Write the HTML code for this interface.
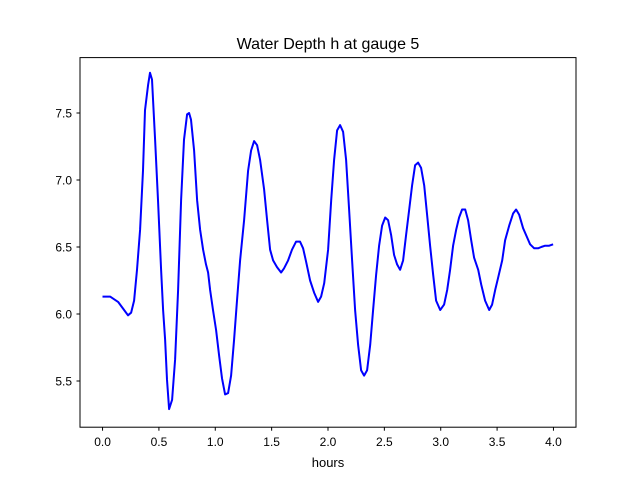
<!DOCTYPE html>
<html><head><meta charset="utf-8"><style>
body{margin:0;background:#fff;}
svg{display:block;font-family:"Liberation Sans","DejaVu Sans",sans-serif;}
</style></head><body>
<svg id="chart" width="640" height="480" xmlns="http://www.w3.org/2000/svg">
<rect width="640" height="480" fill="#fff"/>
<text x="328" y="49" font-size="16" text-anchor="middle">Water Depth h at gauge 5</text>
<g id="xticks"></g>
<g id="yticks"></g>
<path id="line" fill="none" stroke="#0000ff" stroke-width="2" stroke-linejoin="round"/>
<rect x="80" y="57.6" width="496" height="369.6" fill="none" stroke="#000" stroke-width="1"/>
<text x="328" y="467" font-size="13" text-anchor="middle">hours</text>
</svg>
<script>
const hours=[0,0.067,0.138,0.191,0.226,0.253,0.28,0.306,0.333,0.359,0.377,0.404,0.421,0.439,0.466,0.492,0.519,0.537,0.555,0.572,0.59,0.617,0.644,0.67,0.697,0.723,0.75,0.768,0.785,0.812,0.839,0.865,0.892,0.918,0.936,0.954,0.98,1.007,1.034,1.06,1.087,1.114,1.14,1.167,1.193,1.22,1.256,1.291,1.318,1.344,1.371,1.398,1.433,1.46,1.486,1.513,1.548,1.584,1.61,1.646,1.681,1.717,1.752,1.779,1.806,1.841,1.877,1.912,1.939,1.966,2.001,2.028,2.054,2.081,2.107,2.134,2.161,2.187,2.214,2.24,2.267,2.294,2.32,2.347,2.374,2.4,2.427,2.453,2.48,2.507,2.533,2.56,2.586,2.613,2.64,2.666,2.693,2.72,2.746,2.773,2.799,2.826,2.853,2.879,2.906,2.933,2.959,2.995,3.03,3.057,3.083,3.11,3.137,3.163,3.19,3.217,3.243,3.27,3.296,3.332,3.359,3.394,3.43,3.456,3.483,3.509,3.545,3.571,3.607,3.642,3.669,3.696,3.731,3.767,3.793,3.829,3.864,3.891,3.926,3.962,3.997];
const depth=[6.13,6.13,6.09,6.03,5.99,6.01,6.1,6.33,6.63,7.07,7.52,7.71,7.8,7.75,7.3,6.85,6.33,6.03,5.81,5.51,5.29,5.36,5.66,6.18,6.85,7.3,7.49,7.5,7.45,7.22,6.85,6.63,6.48,6.37,6.31,6.18,6.03,5.88,5.69,5.52,5.4,5.41,5.54,5.81,6.1,6.4,6.7,7.07,7.22,7.29,7.26,7.15,6.93,6.7,6.48,6.4,6.35,6.31,6.34,6.4,6.48,6.54,6.54,6.49,6.39,6.25,6.16,6.09,6.13,6.23,6.48,6.85,7.15,7.37,7.41,7.36,7.15,6.78,6.4,6.03,5.77,5.58,5.54,5.58,5.77,6.03,6.29,6.51,6.66,6.72,6.7,6.59,6.44,6.37,6.33,6.4,6.59,6.78,6.96,7.11,7.13,7.09,6.96,6.74,6.51,6.29,6.1,6.03,6.07,6.18,6.33,6.51,6.63,6.72,6.78,6.78,6.7,6.55,6.42,6.33,6.22,6.1,6.03,6.07,6.18,6.27,6.4,6.55,6.66,6.75,6.78,6.74,6.64,6.57,6.52,6.49,6.49,6.5,6.51,6.51,6.52];
const xTickVals=[0,0.5,1,1.5,2,2.5,3,3.5,4];
const xTickLabels=["0.0","0.5","1.0","1.5","2.0","2.5","3.0","3.5","4.0"];
const yTickVals=[5.5,6,6.5,7,7.5];
const yTickLabels=["5.5","6.0","6.5","7.0","7.5"];
const X=h=>80+(h+0.2)*(496/4.4);
const Y=v=>113+(7.5-v)*134;
const ns="http://www.w3.org/2000/svg";
const xg=document.getElementById('xticks'), yg=document.getElementById('yticks');
xTickVals.forEach((t,i)=>{
 const l=document.createElementNS(ns,'line');
 
 
 l.setAttribute('x1',X(t));l.setAttribute('x2',X(t));l.setAttribute('y1',427.2);l.setAttribute('y2',430.7);l.setAttribute('stroke','#000');
 xg.appendChild(l);
 const tx=document.createElementNS(ns,'text');
 
 
 tx.setAttribute('x',X(t));tx.setAttribute('y',446);tx.setAttribute('font-size','12');tx.setAttribute('text-anchor','middle');
 tx.textContent=xTickLabels[i];xg.appendChild(tx);
});
yTickVals.forEach((t,i)=>{
 const l=document.createElementNS(ns,'line');
 
 
 l.setAttribute('x1',76.5);l.setAttribute('x2',80);l.setAttribute('y1',Y(t));l.setAttribute('y2',Y(t));l.setAttribute('stroke','#000');
 yg.appendChild(l);
 const tx=document.createElementNS(ns,'text');
 
 
 tx.setAttribute('x',72);tx.setAttribute('y',Y(t)+4.5);tx.setAttribute('font-size','12');tx.setAttribute('text-anchor','end');
 tx.textContent=yTickLabels[i];yg.appendChild(tx);
});
document.getElementById('line').setAttribute('d',hours.map((h,i)=>(i?'L':'M')+X(h).toFixed(1)+','+Y(depth[i]).toFixed(1)).join(''));
</script>
</body></html>
